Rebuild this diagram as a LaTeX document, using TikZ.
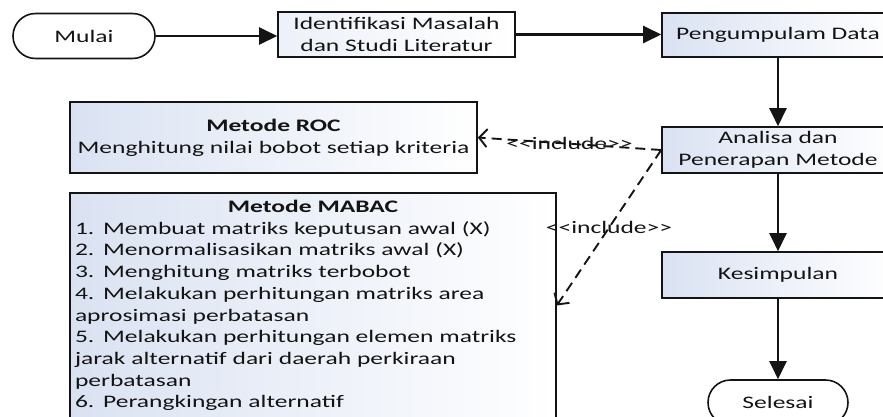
\documentclass[tikz,border=0pt]{standalone}
\usepackage{fontspec}
\setmainfont{Carlito}[FakeStretch=1.45]
\usetikzlibrary{arrows.meta}
\definecolor{boxblue}{HTML}{DAE2F2}
\definecolor{ink}{HTML}{141414}
\begin{document}
\begin{tikzpicture}[x=1pt,y=-1pt,
  font=\fontsize{17.6}{21.7}\selectfont,
  box/.style={draw=ink, line width=1.6pt, left color=boxblue, right color=white,
    inner sep=0pt, text=ink, align=center},
  term/.style={draw=ink, line width=1.6pt, fill=white, rounded corners=22.5pt,
    minimum width=142pt, minimum height=45pt, inner sep=0pt, text=ink},
  arr/.style={draw=ink, line width=2.3pt, -{Triangle[length=18pt,width=17pt]}},
  dep/.style={draw=ink, line width=1.9pt, dash pattern=on 10pt off 6pt,
    -{Straight Barb[length=8pt,width=18pt]}},
  lbl/.style={text=ink, inner sep=0pt}]
\useasboundingbox (0,0) rectangle (883,416);
\clip (0,0) rectangle (883,416);

\node[term] (mulai) at (84,36) {Mulai};
\node[box, left color=boxblue!50, minimum width=237pt, minimum height=45pt] (ident) at (396.5,34.5) {Identifikasi Masalah\\dan Studi Literatur};
\node[box, minimum width=232pt, minimum height=44pt] (peng) at (778,35) {Pengumpulam Data};
\node[box, minimum width=232pt, minimum height=46pt] (ana) at (778,150) {Analisa dan\\Penerapan Metode};
\node[box, minimum width=232pt, minimum height=46pt] (kes) at (778,275) {Kesimpulan};
\node[term, minimum width=140pt] (sel) at (778,402.5) {Selesai};

\node[box, minimum width=407pt, minimum height=71pt] (roc) at (273.5,137.5)
  {\textbf{Metode ROC}\\Menghitung nilai bobot setiap kriteria};
\node[box, minimum width=486pt, minimum height=225pt, text width=476pt,
  inner xsep=5pt, align=left] (mabac) at (313,305.5)
  {\makebox[\linewidth]{\textbf{Metode MABAC}}\\
   1. Membuat matriks keputusan awal (X)\\
   2. Menormalisasikan matriks awal (X)\\
   3. Menghitung matriks terbobot\\
   4. Melakukan perhitungan matriks area\\
   aprosimasi perbatasan\\
   5. Melakukan perhitungan elemen matriks\\
   jarak alternatif dari daerah perkiraan\\
   perbatasan\\
   6. Perangkingan alternatif};

\draw[arr] (mulai.east) -- (mulai.east -| ident.west);
\draw[arr] (ident.east) -- (ident.east -| peng.west);
\draw[arr] (peng) -- (ana);
\draw[arr] (ana) -- (kes);
\draw[arr] (kes) -- (sel);

\draw[dep] (ana.west) -- node[lbl] {<\kern0pt<include>\kern0pt>} (roc.east);
\draw[dep] (ana.west) -- node[lbl] {<\kern0pt<include>\kern0pt>} (mabac.east);
\end{tikzpicture}
\end{document}
